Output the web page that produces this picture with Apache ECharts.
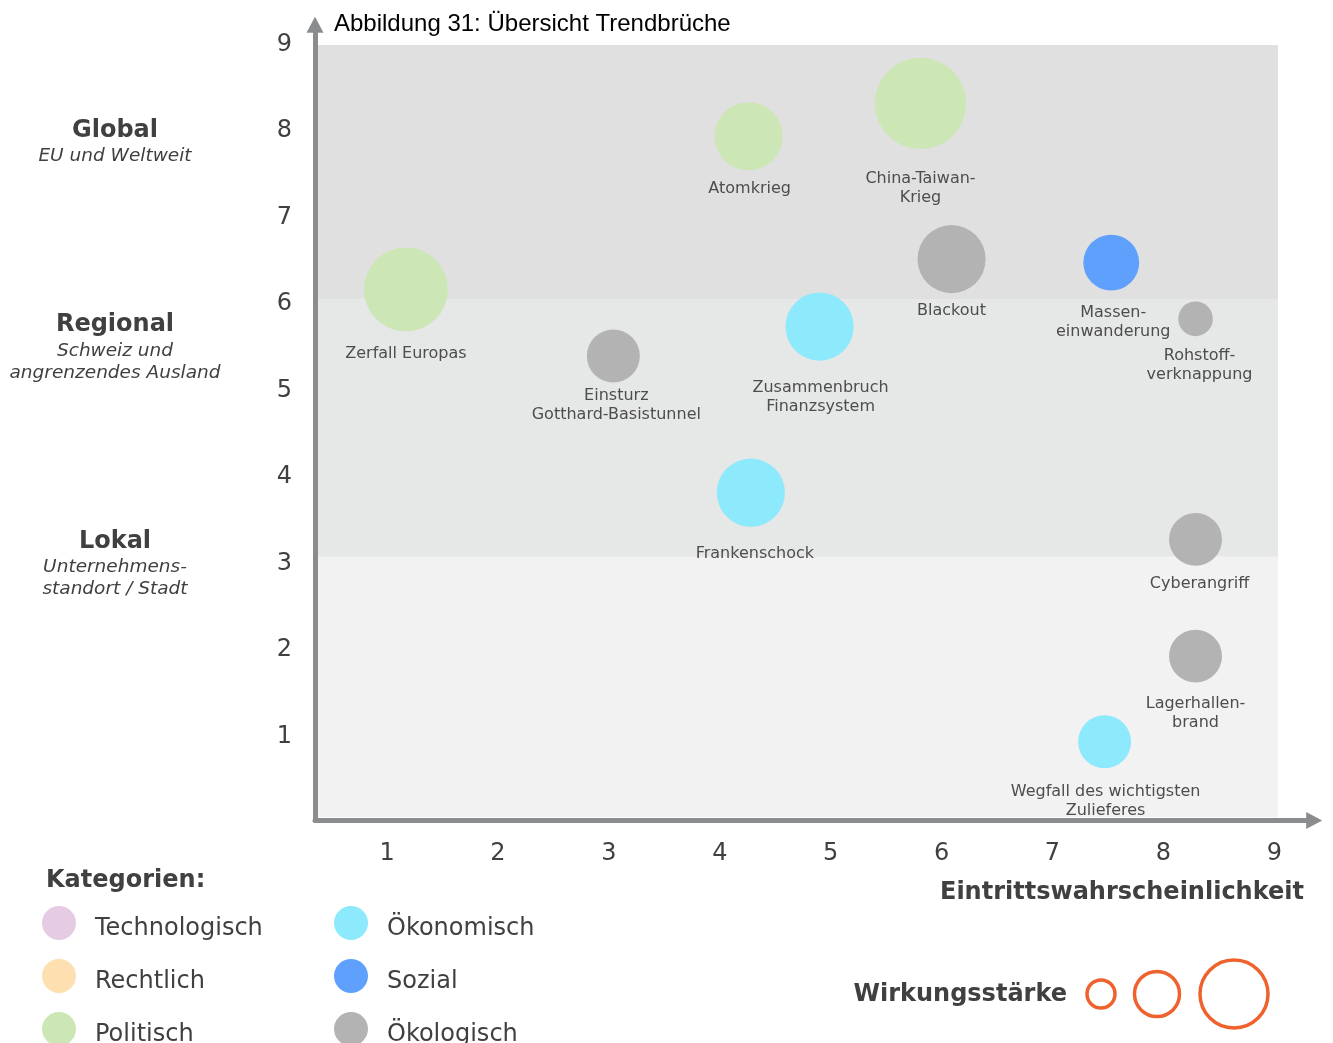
<!DOCTYPE html>
<html>
<head>
<meta charset="utf-8">
<title>Übersicht Trendbrüche</title>
<script src="https://cdn.jsdelivr.net/npm/echarts@6/dist/echarts.min.js"></script>
<style>
  html, body { margin: 0; padding: 0; background: #fff; }
  #chart { width: 1333px; height: 1043px; }
</style>
</head>
<body>
<div id="chart"></div>
<script>
// Daten: Trendbrüche (Eintrittswahrscheinlichkeit, Reichweite, Wirkungsstärke)
var events = [
    'Zerfall Europas', 'Atomkrieg', 'China-Taiwan-\nKrieg', 'Blackout',
    'Massen-\neinwanderung', 'Rohstoff-\nverknappung', 'Einsturz\nGotthard-Basistunnel',
    'Zusammenbruch\nFinanzsystem', 'Frankenschock', 'Cyberangriff',
    'Lagerhallen-\nbrand', 'Wegfall des wichtigsten\nZulieferes'
];
var probability = [1.17, 4.26, 5.81, 6.09, 7.53, 8.29, 3.04, 4.90, 4.28, 8.29, 8.29, 7.47];
var reach       = [6.14, 7.91, 8.29, 6.49, 6.45, 5.80, 5.37, 5.71, 3.79, 3.25, 1.90, 0.91];
var impact      = [8.8, 5.8, 10.4, 5.8, 3.9, 1.5, 3.5, 5.8, 5.8, 3.5, 3.5, 3.5];
var category    = ['Politisch', 'Politisch', 'Politisch', 'Ökologisch',
    'Sozial', 'Ökologisch', 'Ökologisch',
    'Ökonomisch', 'Ökonomisch', 'Ökologisch',
    'Ökologisch', 'Ökonomisch'];

var categories = ['Technologisch', 'Rechtlich', 'Politisch', 'Ökonomisch', 'Sozial', 'Ökologisch'];
var catColors  = ['#e5cce3', '#fddfb0', '#cce6b6', '#8de9fc', '#5fa0fc', '#b3b3b3'];

// Reichweite-Bänder (Lokal / Regional / Global)
var bandEdges  = [0.04, 3.05, 6.03, 8.965];
var bandColors = ['#f2f2f2', '#e6e7e7', '#e0e0e0'];

var xTicks = [1, 2, 3, 4, 5, 6, 7, 8, 9];
var yTicks = [1, 2, 3, 4, 5, 6, 7, 8, 9];

// Feinjustierung der Beschriftungen: [dx, Abstand]
var labelNudge = {
    'Zerfall Europas': [0, 13],
    'Atomkrieg': [1, 9],
    'China-Taiwan-\nKrieg': [0, 20],
    'Blackout': [0, 8],
    'Massen-\neinwanderung': [2, 13],
    'Rohstoff-\nverknappung': [4, 10],
    'Einsturz\nGotthard-Basistunnel': [3, 4],
    'Zusammenbruch\nFinanzsystem': [1, 18],
    'Frankenschock': [4, 18],
    'Cyberangriff': [4, 8],
    'Lagerhallen-\nbrand': [0, 12],
    'Wegfall des wichtigsten\nZulieferes': [1, 14]
};

var FONT = 'DejaVu Sans, Verdana, sans-serif';
var TEXT = '#404040';

function isTick(v, list) {
    for (var i = 0; i < list.length; i++) {
        if (Math.abs(v - list[i]) < 1e-6) return true;
    }
    return false;
}

var chart = echarts.init(document.getElementById('chart'));

// Hintergrund-Bänder
var bands = [];
for (var b = 0; b < bandColors.length; b++) {
    bands.push([
        { xAxis: 0.378, yAxis: bandEdges[b], itemStyle: { color: bandColors[b] } },
        { xAxis: 9.034, yAxis: bandEdges[b + 1] }
    ]);
}

var series = [{
    name: 'bands',
    type: 'scatter',
    data: [],
    silent: true,
    markArea: { silent: true, label: { show: false }, data: bands }
}];

for (var c = 0; c < categories.length; c++) {
    var pts = [];
    for (var i = 0; i < events.length; i++) {
        if (category[i] !== categories[c]) continue;
        var nudge = labelNudge[events[i]] || [0, 10];
        pts.push({
            name: events[i],
            value: [probability[i], reach[i], impact[i]],
            label: { offset: [nudge[0], 0], distance: nudge[1] }
        });
    }
    series.push({
        name: categories[c],
        type: 'scatter',
        data: pts,
        symbol: 'circle',
        symbolSize: function (val) { return 28.3 * Math.sqrt(val[2]); },
        itemStyle: { color: catColors[c], opacity: 1 },
        label: {
            show: true,
            position: 'bottom',
            formatter: '{b}',
            fontFamily: FONT,
            fontSize: 16,
            lineHeight: 19,
            color: '#4d4d4d',
            align: 'center'
        },
        emphasis: { disabled: true },
        z: 5
    });
}

function legendBlock(left, names) {
    return {
        orient: 'vertical',
        left: left,
        top: 906,
        height: 200,
        padding: 0,
        icon: 'circle',
        itemWidth: 34,
        itemHeight: 34,
        itemGap: 18,
        selectedMode: false,
        data: names,
        formatter: '{t|{name}}',
        textStyle: {
            padding: [0, 0, 0, 14],
            rich: {
                t: {
                    fontFamily: FONT,
                    fontSize: 24,
                    color: TEXT,
                    padding: [12, 0, 0, 0]
                }
            }
        }
    };
}

var sideText = [
    ['Global', 115, 131, 'bold 24px ' + FONT],
    ['EU und Weltweit', 115, 156, 'italic 18.5px ' + FONT],
    ['Regional', 115, 325, 'bold 24px ' + FONT],
    ['Schweiz und', 115, 351, 'italic 18.5px ' + FONT],
    ['angrenzendes Ausland', 115, 373, 'italic 18.5px ' + FONT],
    ['Lokal', 115, 542, 'bold 24px ' + FONT],
    ['Unternehmens-', 115, 567, 'italic 18.5px ' + FONT],
    ['standort / Stadt', 115, 589, 'italic 18.5px ' + FONT]
];
var graphics = [];
for (var s = 0; s < sideText.length; s++) {
    graphics.push({
        type: 'text', x: sideText[s][1], y: sideText[s][2],
        style: { text: sideText[s][0], font: sideText[s][3], fill: TEXT,
                 textAlign: 'center', textVerticalAlign: 'middle' }
    });
}
graphics.push(
    { type: 'text', x: 1304, y: 893,
      style: { text: 'Eintrittswahrscheinlichkeit', font: 'bold 24px ' + FONT, fill: TEXT,
               textAlign: 'right', textVerticalAlign: 'middle' } },
    { type: 'text', x: 46, y: 881,
      style: { text: 'Kategorien:', font: 'bold 24px ' + FONT, fill: TEXT,
               textAlign: 'left', textVerticalAlign: 'middle' } },
    { type: 'text', x: 1067, y: 995,
      style: { text: 'Wirkungsstärke', font: 'bold 24px ' + FONT, fill: TEXT,
               textAlign: 'right', textVerticalAlign: 'middle' } },
    { type: 'circle', shape: { cx: 1101, cy: 994, r: 14 },
      style: { fill: 'none', stroke: '#f0622d', lineWidth: 3.5 } },
    { type: 'circle', shape: { cx: 1157, cy: 994, r: 22.5 },
      style: { fill: 'none', stroke: '#f0622d', lineWidth: 3.5 } },
    { type: 'circle', shape: { cx: 1234, cy: 994, r: 34 },
      style: { fill: 'none', stroke: '#f0622d', lineWidth: 3.5 } }
);

var axisLine = {
    show: true,
    lineStyle: { color: '#8a8c8e', width: 5 },
    symbol: ['none', 'triangle'],
    symbolSize: [17, 16]
};

var option = {
    backgroundColor: '#ffffff',
    animation: false,
    title: {
        text: 'Abbildung 31: Übersicht Trendbrüche',
        left: 329,
        top: 7,
        textStyle: { fontFamily: 'Liberation Sans, Arial, sans-serif', fontSize: 24,
                     fontWeight: 'normal', color: '#000' }
    },
    grid: {
        left: 315,
        right: 18.8,
        top: 24.7,
        bottom: 222.5,
        containLabel: false,
        outerBoundsMode: 'none'
    },
    xAxis: {
        type: 'value',
        min: 0.35,
        max: 9.36,
        minInterval: 1,
        maxInterval: 1,
        splitNumber: 9,
        z: 10,
        axisLine: axisLine,
        axisTick: { show: false },
        splitLine: { show: false },
        axisLabel: {
            margin: 21,
            fontFamily: FONT,
            fontSize: 24,
            color: TEXT,
            showMinLabel: true,
            showMaxLabel: true,
            formatter: function (v) { return isTick(v, xTicks) ? String(Math.round(v)) : ''; }
        }
    },
    yAxis: {
        type: 'value',
        min: 0,
        max: 9.2,
        interval: 1,
        z: 10,
        axisLine: axisLine,
        axisTick: { show: false },
        splitLine: { show: false },
        axisLabel: {
            margin: 23,
            formatter: function (v) { return isTick(v, yTicks) ? '{v|' + Math.round(v) + '}' : ''; },
            rich: {
                v: { fontFamily: FONT, fontSize: 24, color: TEXT, padding: [5, 0, 0, 0] }
            }
        }
    },
    legend: [
        legendBlock(42, categories.slice(0, 3)),
        legendBlock(334, categories.slice(3))
    ],
    graphic: graphics,
    series: series
};
chart.setOption(option);
</script>
</body>
</html>
